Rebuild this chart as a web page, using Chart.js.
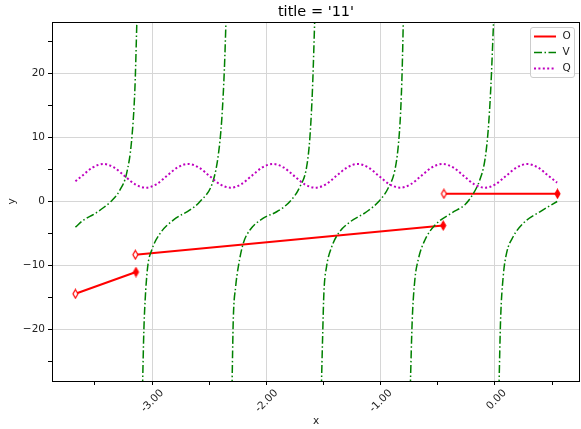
<!DOCTYPE html>
<html>
<head>
<meta charset="utf-8">
<script src="https://cdn.jsdelivr.net/npm/chart.js@4.4.1/dist/chart.umd.min.js"></script>
<style>
  html, body { margin: 0; padding: 0; background: #fff; }
</style>
</head>
<body>
<canvas id="myChart" width="581" height="429"></canvas>
<script>
// O: three straight pieces (open marker at start, filled marker at end)
const oStartX = [-3.670, -3.146, -0.446];
const oStartY = [-14.4, -8.3, 1.2];
const oEndX = [-3.140, -0.452, 0.548];
const oEndY = [-11.0, -3.75, 1.2];

// V: tan-like branches, null = break between branches
const vX = [
  -3.670, -3.600, -3.500, -3.420, -3.360, -3.280, -3.222, -3.178, -3.149, -3.131, null,
  -3.083, -3.071, -3.060, -3.038, -3.003, -2.930, -2.814, -2.668, -2.580, -2.462, -2.418, -2.390, -2.367, -2.351, null,
  -2.300, -2.289, -2.268, -2.245, -2.201, -2.143, -2.026, -1.909, -1.793, -1.706, -1.647, -1.618, -1.595, -1.575, null,
  -1.518, -1.507, -1.496, -1.473, -1.428, -1.370, -1.268, -1.122, -1.006, -0.933, -0.875, -0.846, -0.825, -0.811, -0.800, null,
  -0.740, -0.723, -0.700, -0.671, -0.612, -0.525, -0.379, -0.262, -0.204, -0.131, -0.087, -0.058, -0.035, -0.009, null,
  0.036, 0.050, 0.073, 0.102, 0.160, 0.248, 0.394, 0.545
];
const vY = [
  -4.0, -2.9, -1.9, -0.9, 0.0, 1.8, 4.4, 9.6, 17.9, 29, null,
  -29, -20, -15.4, -10.2, -7.6, -5.0, -2.9, -1.3, 0.0, 3.4, 7.5, 12.7, 20.5, 29, null,
  -29, -18.5, -13.3, -10.2, -6.5, -4.45, -2.6, -1.6, 0.0, 2.3, 5.4, 10.1, 17.9, 29, null,
  -29, -21.1, -14.3, -10.2, -7.1, -5.0, -3.2, -1.6, 0.2, 2.1, 4.9, 8.5, 13.8, 20.5, 29, null,
  -29, -18.5, -12.2, -9.1, -6.0, -3.7, -1.8, -0.5, 0.8, 3.4, 6.5, 11.2, 17.9, 29, null,
  -29, -18.5, -11.7, -8.1, -5.5, -3.4, -1.6, 0.0
];

// Q: wavy dotted line
const qX = [
  -3.670, -3.612, -3.519, -3.426, -3.333, -3.241, -3.148, -3.055, -2.962, -2.870,
  -2.777, -2.684, -2.591, -2.499, -2.406, -2.313, -2.220, -2.128, -2.035, -1.942,
  -1.849, -1.757, -1.664, -1.571, -1.478, -1.386, -1.293, -1.200, -1.107, -1.015,
  -0.922, -0.829, -0.736, -0.644, -0.551, -0.458, -0.365, -0.273, -0.180, -0.087,
  0.006, 0.098, 0.191, 0.284, 0.377, 0.469, 0.545
];
const qY = [
  3.15, 4.0, 5.31, 5.85, 5.31, 4.0, 2.69, 2.15, 2.69, 4.0,
  5.31, 5.85, 5.31, 4.0, 2.69, 2.15, 2.69, 4.0, 5.31, 5.85,
  5.31, 4.0, 2.69, 2.15, 2.69, 4.0, 5.31, 5.85, 5.31, 4.0,
  2.69, 2.15, 2.69, 4.0, 5.31, 5.85, 5.31, 4.0, 2.69, 2.15,
  2.69, 4.0, 5.31, 5.85, 5.31, 4.0, 2.95
];

// ticks
const xMajor = [-3, -2, -1, 0];
const xLabels = ['-3.00', '-2.00', '-1.00', '0.00'];
const xMinor = [-3.5, -2.5, -1.5, -0.5, 0.5];
const yMajor = [-20, -10, 0, 10, 20];
const yLabels = ['\u221220', '\u221210', '0', '10', '20'];
const yMinor = [-25, -15, -5, 5, 15, 25];
const titleText = "title = '11'";

const FONT = 'DejaVu Sans';
const gridColor = '#d6d6d6';

function diamond(filled) {
  const c = document.createElement('canvas');
  c.width = 9; c.height = 11;
  const g = c.getContext('2d');
  g.beginPath();
  g.moveTo(4.5, 1.2); g.lineTo(7.0, 5.5); g.lineTo(4.5, 9.8); g.lineTo(2.0, 5.5); g.closePath();
  g.fillStyle = filled ? '#ff0000' : '#ffffff';
  g.fill();
  g.strokeStyle = '#ff0000'; g.lineWidth = 1.2; g.stroke();
  return c;
}
const openD = diamond(false);
const fillD = diamond(true);

const oData = [];
const oMarks = [];
oStartX.forEach((x, i) => {
  oData.push({x: x, y: oStartY[i]}, {x: oEndX[i], y: oEndY[i]});
  oMarks.push(openD, fillD);
  if (i < oStartX.length - 1) {
    oData.push({x: oEndX[i], y: null});
    oMarks.push(false);
  }
});
const vData = vX.map((x, i) => ({x: x === null ? vX[i - 1] : x, y: vY[i]}));
const qData = qX.map((x, i) => ({x: x, y: qY[i]}));

const legendItems = [
  {label: 'O', color: '#ff0000', dash: [], width: 2},
  {label: 'V', color: '#008000', dash: [8, 2.5, 1.5, 2.5], width: 1.5},
  {label: 'Q', color: '#bf00bf', dash: [2, 2.4], width: 2}
];

// spines, title over the plot area, legend box inside the axes
const frame = {
  id: 'frame',
  afterDraw(chart) {
    const ctx = chart.ctx;
    const a = chart.chartArea;
    ctx.save();
    ctx.strokeStyle = '#000';
    ctx.lineWidth = 1;
    ctx.strokeRect(Math.round(a.left) + 0.5, Math.round(a.top) + 0.5,
      Math.round(a.right - a.left) - 1, Math.round(a.bottom - a.top));

    ctx.fillStyle = '#000';
    ctx.font = '14.5px "' + FONT + '"';
    ctx.textAlign = 'center';
    ctx.textBaseline = 'middle';
    ctx.fillText(titleText, (a.left + a.right) / 2, 12);

    const bx = a.right - 49.5, by = a.top + 5.5, bw = 44, bh = 50;
    ctx.beginPath();
    ctx.roundRect(bx, by, bw, bh, 2.5);
    ctx.fillStyle = 'rgba(255,255,255,0.8)';
    ctx.fill();
    ctx.strokeStyle = '#cccccc';
    ctx.stroke();
    ctx.font = '10.5px "' + FONT + '"';
    ctx.textAlign = 'left';
    legendItems.forEach((it, i) => {
      const y = by + 9 + i * 16;
      ctx.beginPath();
      ctx.setLineDash(it.dash);
      ctx.strokeStyle = it.color;
      ctx.lineWidth = it.width;
      ctx.moveTo(bx + 3.5, y);
      ctx.lineTo(bx + 25.5, y);
      ctx.stroke();
      ctx.setLineDash([]);
      ctx.fillStyle = '#222';
      ctx.fillText(it.label, bx + 32, y);
    });
    ctx.restore();
  }
};

new Chart(document.getElementById('myChart'), {
  type: 'line',
  data: {
    datasets: [
      {
        label: 'Q', data: qData, borderColor: '#bf00bf', borderWidth: 2,
        borderDash: [2, 2.4], pointRadius: 0, cubicInterpolationMode: 'monotone',
        order: 1, clip: 0
      },
      {
        label: 'V', data: vData, borderColor: '#008000', borderWidth: 1.5,
        borderDash: [8, 2.5, 1.5, 2.5], pointRadius: 0, spanGaps: false,
        cubicInterpolationMode: 'monotone', order: 2, clip: 0
      },
      {
        label: 'O', data: oData, borderColor: '#ff0000', borderWidth: 2,
        pointStyle: oMarks, pointRadius: 4, spanGaps: false, order: 3
      }
    ]
  },
  options: {
    responsive: false,
    animation: false,
    events: [],
    layout: { autoPadding: false, padding: { left: 0, right: 1, top: 22, bottom: 0 } },
    plugins: {
      legend: { display: false },
      tooltip: { enabled: false },
      title: { display: false }
    },
    scales: {
      x: {
        type: 'linear', min: -3.875, max: 0.745,
        afterBuildTicks: s => { s.ticks = xMajor.concat(xMinor).sort((a, b) => a - b).map(v => ({value: v})); },
        afterFit: s => { s.height = 48; s.paddingLeft = 0; s.paddingRight = 0; },
        border: { display: false },
        grid: {
          color: c => (c.tick && xMajor.includes(c.tick.value)) ? gridColor : 'rgba(0,0,0,0)',
          tickColor: '#000', tickLength: 4, lineWidth: 1
        },
        ticks: {
          autoSkip: false, minRotation: 45, maxRotation: 45, labelOffset: 10, padding: 2,
          color: '#222', font: { family: FONT, size: 10.5 },
          callback: v => { const i = xMajor.indexOf(v); return i >= 0 ? xLabels[i] : ''; }
        },
        title: {
          display: true, text: 'x', color: '#222',
          font: { family: FONT, size: 10.5, lineHeight: 1.2 },
          padding: { top: 0, bottom: 1 }
        }
      },
      y: {
        type: 'linear', min: -28, max: 28,
        afterBuildTicks: s => { s.ticks = yMajor.concat(yMinor).sort((a, b) => a - b).map(v => ({value: v})); },
        afterFit: s => { s.width = 52; s.paddingTop = 0; s.paddingBottom = 0; },
        border: { display: false },
        grid: {
          color: c => (c.tick && yMajor.includes(c.tick.value)) ? gridColor : 'rgba(0,0,0,0)',
          tickColor: '#000', tickLength: 4, lineWidth: 1
        },
        ticks: {
          autoSkip: false, padding: 3, color: '#222',
          font: { family: FONT, size: 10.5 },
          callback: v => { const i = yMajor.indexOf(v); return i >= 0 ? yLabels[i] : ''; }
        },
        title: {
          display: true, text: 'y', color: '#222',
          font: { family: FONT, size: 10.5, lineHeight: 1.2 },
          padding: { top: 5.7, bottom: 0 }
        }
      }
    }
  },
  plugins: [frame]
});
</script>
</body>
</html>
